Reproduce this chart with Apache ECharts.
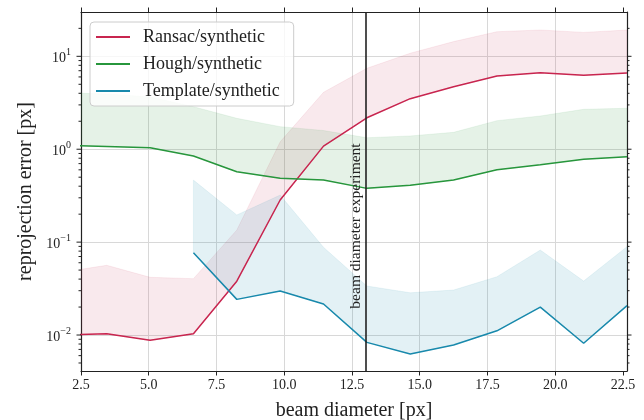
<!DOCTYPE html>
<html>
<head>
<meta charset="utf-8">
<script src="https://cdn.jsdelivr.net/npm/echarts@6/dist/echarts.min.js"></script>
<style>
html, body { margin: 0; padding: 0; background: #fff; }
#main { width: 644px; height: 420px; }
</style>
</head>
<body>
<div id="main"></div>
<script>
// beam diameters [px] (first point lies left of the visible range)
var beamDiameter = [1.85, 3.45, 5.05, 6.65, 8.25, 9.85, 11.45, 13.05, 14.65, 16.25, 17.85, 19.45, 21.05, 22.65];
var ransacMedian = [0.0100, 0.0103, 0.0088, 0.0103, 0.038, 0.284, 1.08, 2.18, 3.5, 4.71, 6.14, 6.66, 6.24, 6.61];
var ransacUpper  = [0.0476, 0.0563, 0.0418, 0.0404, 0.135, 1.2, 4.1, 7.43, 10.8, 14.4, 18.4, 19.2, 18.1, 19.2];
var houghMedian  = [1.10, 1.07, 1.04, 0.845, 0.573, 0.486, 0.466, 0.379, 0.41, 0.466, 0.60, 0.68, 0.778, 0.83];
var houghUpper   = [4.05, 3.93, 3.65, 2.87, 2.15, 1.75, 1.59, 1.33, 1.39, 1.52, 2.03, 2.28, 2.69, 2.76];
var templateDiameter = [6.65, 8.25, 9.85, 11.45, 13.05, 14.65, 16.25, 17.85, 19.45, 21.05, 22.65];
var templateMedian = [0.0769, 0.0242, 0.0298, 0.0216, 0.00834, 0.00625, 0.0078, 0.0111, 0.020, 0.00815, 0.0207];
var templateUpper  = [0.465, 0.196, 0.321, 0.088, 0.0337, 0.0285, 0.0305, 0.0424, 0.0822, 0.0381, 0.0893];
var experimentDiameter = 13.0;

var xTicks = [2.5, 5.0, 7.5, 10.0, 12.5, 15.0, 17.5, 20.0, 22.5];
var yMajorTicks = [0.01, 0.1, 1, 10];
var yMinorTicks = [0.005, 0.006, 0.007, 0.008, 0.009,
                   0.02, 0.03, 0.04, 0.05, 0.06, 0.07, 0.08, 0.09,
                   0.2, 0.3, 0.4, 0.5, 0.6, 0.7, 0.8, 0.9,
                   2, 3, 4, 5, 6, 7, 8, 9, 20];

var font = 'Liberation Serif';
var ink = '#222';
var red = '#c8254f', green = '#27963c', blue = '#1889ac';

function pairs(xs, ys) {
    return xs.map(function (x, i) { return [x, ys[i]]; });
}
function fade(hex, a) {
    var n = parseInt(hex.slice(1), 16);
    return 'rgba(' + (n >> 16) + ',' + ((n >> 8) & 255) + ',' + (n & 255) + ',' + a + ')';
}
function medianLine(name, xs, ys, color) {
    return {
        name: name, type: 'line', data: pairs(xs, ys),
        symbol: 'none', showSymbol: false, color: color,
        lineStyle: { color: color, width: 1.5 }, z: 4, silent: true
    };
}
// shaded region between median and upper bound, one polygon per series
function band(xs, hi, lo, color, alpha) {
    return {
        type: 'custom', silent: true, z: 2,
        data: xs.map(function (x, i) { return [x, lo[i], hi[i]]; }),
        encode: { x: 0, y: [1, 2] },
        renderItem: function (params, api) {
            if (params.dataIndexInside !== 0) return null;
            var n = params.dataInsideLength, top = [], bottom = [];
            for (var i = 0; i < n; i++) {
                var x = api.value(0, i);
                top.push(api.coord([x, api.value(2, i)]));
                bottom.unshift(api.coord([x, api.value(1, i)]));
            }
            var cs = params.coordSys;
            return {
                type: 'polygon',
                shape: { points: top.concat(bottom) },
                style: { fill: fade(color, alpha), stroke: fade(color, 0.08), lineWidth: 1 },
                clipPath: { type: 'rect', shape: { x: cs.x, y: cs.y, width: cs.width, height: cs.height } }
            };
        }
    };
}
function tickSeries(values, len) {
    return {
        type: 'custom', silent: true, clip: false, z: 10,
        data: values.map(function (v) { return [xTicks[0], v]; }),
        encode: { x: 0, y: 1 },
        renderItem: function (params, api) {
            var y = api.coord([api.value(0), api.value(1)])[1];
            var cs = params.coordSys;
            var st = { stroke: ink, lineWidth: 1 };
            return {
                type: 'group', children: [
                    { type: 'line', shape: { x1: cs.x - len, y1: y, x2: cs.x, y2: y }, style: st },
                    { type: 'line', shape: { x1: cs.x + cs.width, y1: y, x2: cs.x + cs.width + len, y2: y }, style: st }
                ]
            };
        }
    };
}

var ransac = medianLine('Ransac/synthetic', beamDiameter, ransacMedian, red);
ransac.markLine = {
    silent: true, symbol: ['none', 'none'],
    label: { show: false },
    lineStyle: { color: ink, width: 1.6, type: 'solid' },
    data: [{ xAxis: experimentDiameter }]
};

var chart = echarts.init(document.getElementById('main'));
chart.setOption({
    animation: false,
    grid: { left: 81, right: 17, top: 12, bottom: 49, outerBoundsMode: 'none', containLabel: false },
    legend: {
        data: ['Ransac/synthetic', 'Hough/synthetic', 'Template/synthetic'],
        orient: 'vertical', left: 90, top: 22,
        padding: [6, 14, 6, 6], itemGap: 9,
        icon: 'rect', itemWidth: 34, itemHeight: 2,
        backgroundColor: 'rgba(255,255,255,0.8)',
        borderColor: '#cccccc', borderWidth: 1, borderRadius: 4,
        textStyle: { fontFamily: font, fontSize: 18, lineHeight: 17, color: ink, padding: [0, 0, 0, 8] }
    },
    xAxis: [{
        type: 'value', position: 'bottom', min: 2.5, max: 22.65, interval: 2.5,
        name: 'beam diameter [px]', nameLocation: 'middle', nameGap: 30,
        nameTextStyle: { fontFamily: font, fontSize: 20, color: ink },
        axisLine: { lineStyle: { color: ink, width: 1.2 } },
        axisTick: { show: true, length: 4.5, customValues: xTicks, lineStyle: { color: ink } },
        axisLabel: {
            customValues: xTicks, margin: 7, fontFamily: font, fontSize: 14, color: ink,
            formatter: function (v) { return v.toFixed(1); }
        },
        splitLine: { show: true, showMinLine: false, showMaxLine: false, lineStyle: { color: '#d8d8d8', width: 1 } }
    }, {
        type: 'value', position: 'top', min: 2.5, max: 22.65, interval: 2.5,
        axisLine: { lineStyle: { color: ink, width: 1.2 } },
        axisTick: { show: true, length: 4.5, customValues: xTicks, lineStyle: { color: ink } },
        axisLabel: { show: false },
        splitLine: { show: false }
    }],
    yAxis: [{
        type: 'log', logBase: 10, min: 0.0041, max: 30, position: 'left',
        name: 'reprojection error [px]', nameLocation: 'middle', nameGap: 44,
        nameTextStyle: { fontFamily: font, fontSize: 20, color: ink },
        axisLine: { show: true, lineStyle: { color: ink, width: 1.2 } },
        axisTick: { show: false },
        axisLabel: {
            margin: 10, color: ink,
            formatter: function (v) {
                var e = Math.round(Math.log10(v));
                if (Math.abs(Math.log10(v) - e) > 1e-6) return '';
                return '{b|10}{s|' + (e < 0 ? '\u2212' + (-e) : e) + '}';
            },
            rich: {
                b: { fontFamily: font, fontSize: 14, color: ink, verticalAlign: 'bottom', lineHeight: 18 },
                s: { fontFamily: font, fontSize: 10, color: ink, verticalAlign: 'top', lineHeight: 18 }
            }
        },
        splitLine: { show: true, showMinLine: false, showMaxLine: false, lineStyle: { color: '#d8d8d8', width: 1 } }
    }, {
        type: 'log', logBase: 10, min: 0.0041, max: 30, position: 'right',
        axisLine: { show: true, lineStyle: { color: ink, width: 1.2 } },
        axisTick: { show: false },
        axisLabel: { show: false },
        splitLine: { show: false }
    }],
    series: [
        ransac,
        band(beamDiameter, ransacUpper, ransacMedian, red, 0.10),
        medianLine('Hough/synthetic', beamDiameter, houghMedian, green),
        band(beamDiameter, houghUpper, houghMedian, green, 0.12),
        medianLine('Template/synthetic', templateDiameter, templateMedian, blue),
        band(templateDiameter, templateUpper, templateMedian, blue, 0.12),
        tickSeries(yMajorTicks, 4.5),
        tickSeries(yMinorTicks, 2.5)
    ]
});

var px = chart.convertToPixel({ xAxisIndex: 0 }, experimentDiameter);
chart.setOption({
    graphic: [{
        type: 'text', x: px - 10, y: 226, rotation: Math.PI / 2, z: 20,
        style: {
            text: 'beam diameter experiment', fill: ink,
            font: '15.5px "Liberation Serif"', align: 'center', verticalAlign: 'middle'
        }
    }]
});
</script>
</body>
</html>
